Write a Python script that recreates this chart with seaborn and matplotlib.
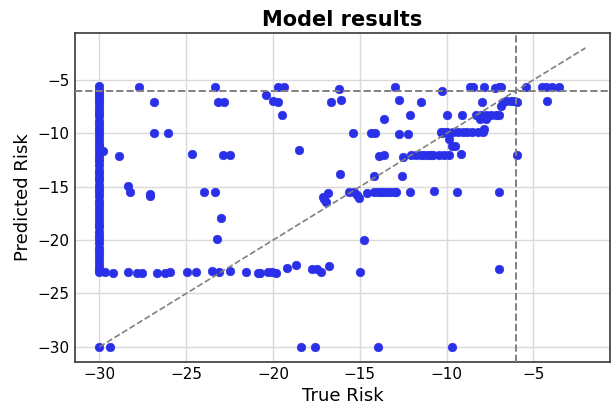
import pandas as pd
import numpy as np
import matplotlib
matplotlib.use("Agg")
import matplotlib.pyplot as plt
import seaborn as sns

# Pontos na coluna True Risk = -30
coluna_pred = [-5.6, -5.9, -6.2, -6.5, -6.8, -7.1, -7.4, -7.8, -8.1, -8.4, -8.8, -9.1,
               -9.5, -9.8, -10.2, -10.5, -10.9, -11.2, -11.6, -11.9, -12.3, -12.6, -13.0,
               -13.4, -13.7, -14.1, -14.4, -14.8, -15.2, -15.5, -15.9, -16.3, -16.6, -17.0,
               -17.4, -17.7, -18.1, -18.5, -18.8, -19.2, -19.6, -19.9, -20.3, -20.7, -21.0,
               -21.4, -21.8, -22.1, -22.5, -22.8, -23.0, -30.0]

# Demais pontos (valor real, valor previsto)
true_risk = [
    -29.77, -28.89, -27.74, -26.87, -26.83, -26.03, -24.69, -23.34, -23.15, -22.8, -22.9, -22.46, -20.4,
    -28.33, -28.23, -27.06, -27.06, -23.95, -23.36, -23.0, -23.2,
    -29.7, -29.23, -28.37, -27.83, -27.55, -26.7, -26.2, -25.93, -24.96, -24.43, -23.53, -23.1, -22.46,
    -21.54, -20.85, -20.74, -20.31, -20.06, -19.83, -19.22, -18.68, -17.76, -17.49, -17.22, -16.76, -14.97,
    -29.38, -18.39, -17.59, -13.98, -9.67,
    -20.03, -19.71, -19.73, -19.35, -19.49, -18.53, -16.64, -16.22, -16.09, -16.13, -15.42, -14.34, -14.11,
    -13.92, -13.58, -13.58, -14.17, -12.96, -12.73, -11.49, -12.12, -12.73, -12.25, -12.59, -12.49,
    -12.06, -11.77, -11.49, -11.29, -11.1, -10.91, -10.81, -10.43, -10.14, -9.85, -9.18,
    -10.28, -9.99, -10.28, -9.85, -9.7, -9.5, -9.14,
    -10.33, -10.14, -9.95, -9.66, -9.37, -9.08, -8.8, -8.51, -8.22, -7.93, -7.84,
    -8.32, -8.03, -7.74, -7.46, -7.17, -6.97, -8.1, -7.74,
    -7.97, -6.88, -6.75, -6.59, -6.3, -6.11, -5.92,
    -8.64, -8.49, -7.84, -7.2, -6.97, -6.86, -5.44, -4.48, -4.29, -3.9, -3.52, -4.23,
    -17.14, -17.05, -16.95, -16.86, -15.65, -15.32, -15.19, -15.03, -14.61, -14.17, -13.98, -13.78,
    -13.6, -13.4, -13.2, -13.0, -12.92, -12.12, -10.7, -9.43, -7.01,
    -14.75, -6.97, -5.97,
]
predicted_risk = [
    -11.7, -12.16, -5.68, -7.1, -10.0, -10.0, -11.94, -5.68, -7.1, -7.08, -12.0, -12.0, -6.4,
    -14.94, -15.5, -15.65, -15.87, -15.45, -15.45, -17.97, -19.94,
    -23.0, -23.05, -23.0, -23.05, -23.05, -23.05, -23.05, -23.0, -22.95, -23.0, -22.85, -23.0, -22.9,
    -23.0, -23.05, -23.05, -23.0, -23.0, -23.05, -22.6, -22.3, -22.7, -22.75, -23.0, -22.41, -22.97,
    -30.0, -30.0, -30.0, -30.0, -30.0,
    -6.97, -7.06, -5.68, -5.68, -8.31, -11.57, -7.03, -5.81, -6.91, -13.77, -9.96, -9.96, -9.96,
    -12.16, -12.0, -8.65, -13.95, -5.68, -6.91, -7.05, -8.28, -10.02, -10.02, -13.98, -12.26,
    -12.05, -12.0, -12.0, -12.0, -12.0, -12.0, -12.05, -12.0, -12.0, -12.0, -11.97,
    -6.07, -8.3, -10.0, -10.55, -11.23, -11.23, -8.3,
    -9.9, -9.9, -9.87, -9.85, -9.87, -9.87, -9.85, -9.87, -9.9, -9.87, -9.6,
    -8.28, -8.28, -8.28, -8.28, -8.28, -8.28, -8.68, -8.7,
    -7.05, -7.44, -7.1, -7.0, -7.0, -7.0, -7.03,
    -5.68, -5.68, -5.68, -5.75, -5.68, -5.62, -5.68, -5.68, -5.68, -5.68, -5.68, -6.97,
    -16.0, -16.14, -16.4, -15.6, -15.45, -15.5, -15.8, -16.1, -15.6, -15.45, -15.45, -15.45,
    -15.45, -15.45, -15.45, -15.45, -15.45, -15.45, -15.42, -15.45, -15.46,
    -20.0, -22.66, -12.02,
]

limiar = -6.0
diagonal = [-30.0, -2.0]

df = pd.DataFrame({
    "True Risk": [-30.0] * len(coluna_pred) + true_risk,
    "Predicted Risk": coluna_pred + predicted_risk,
})

sns.set_theme(style="whitegrid")
plt.rcParams["font.family"] = ["DejaVu Sans"]
plt.rcParams["axes.edgecolor"] = "0.25"
plt.rcParams["axes.linewidth"] = 1.25
plt.rcParams["grid.color"] = "0.85"
plt.rcParams["text.color"] = "black"
plt.rcParams["axes.labelcolor"] = "black"
plt.rcParams["xtick.color"] = "black"
plt.rcParams["ytick.color"] = "black"

fig, ax = plt.subplots(figsize=(6.11, 4.07), dpi=100)
fig.subplots_adjust(left=0.123, right=0.998, bottom=0.111, top=0.919)

sns.scatterplot(data=df, x="True Risk", y="Predicted Risk", color="#2a30e8",
                s=40, edgecolor="#2a30e8", linewidth=0.3, ax=ax, zorder=3)

ax.plot(diagonal, diagonal, linestyle="--", color="gray", linewidth=1.2, zorder=4)
ax.axhline(limiar, linestyle="--", color="gray", linewidth=1.4, zorder=4)
ax.axvline(limiar, linestyle="--", color="gray", linewidth=1.4, zorder=4)

ax.set_title("Model results", fontsize=15, fontweight="bold", pad=5)
ax.set_xlabel("True Risk", fontsize=13, labelpad=3)
ax.set_ylabel("Predicted Risk", fontsize=13, labelpad=4)
ax.tick_params(labelsize=11, length=0, pad=4)
for sp in ax.spines.values():
    sp.set_visible(True)

fig.savefig("out.png", dpi=100)
